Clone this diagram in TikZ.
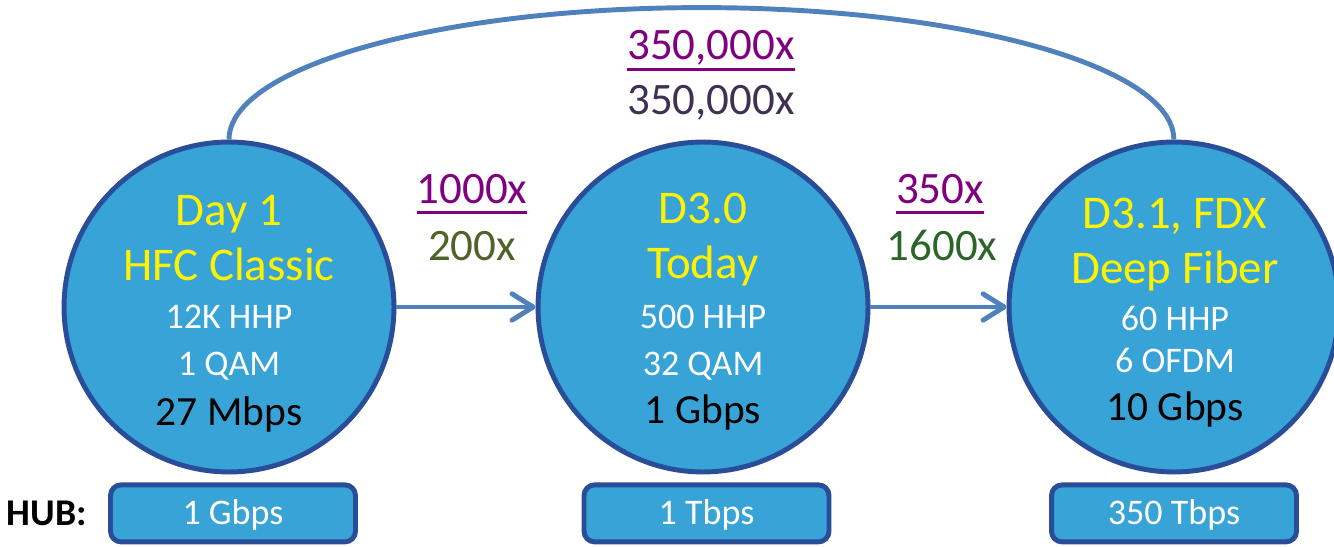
\documentclass[tikz,border=0pt]{standalone}
\usepackage{fontspec}
\setmainfont{Carlito}
\usepackage{tikz}
\usetikzlibrary{positioning}
\usetikzlibrary{arrows.meta}
\definecolor{stagefill}{RGB}{56,163,214}
\definecolor{stageedge}{RGB}{41,77,152}
\definecolor{linkblue}{RGB}{79,129,189}
\definecolor{newpurple}{RGB}{128,0,128}
\definecolor{oldolive}{RGB}{79,98,40}
\definecolor{oldgreen}{RGB}{45,100,40}
\definecolor{olddark}{RGB}{63,49,81}
\tikzset{stage/.style={circle,draw=stageedge,fill=stagefill,line width=2.8pt,minimum size=6.6cm,inner sep=0pt}}
\tikzset{hubbox/.style={rectangle,rounded corners=6pt,draw=stageedge,fill=stagefill,line width=2.8pt,minimum width=4.9cm,minimum height=1.14cm,inner sep=0pt,text height=12.5pt,text depth=0pt,text=white,font=\fontsize{20.5}{24}\selectfont}}
\tikzset{head/.style={anchor=base,inner sep=0pt,text=yellow,font=\fontsize{26.7}{32}\selectfont}}
\tikzset{spec/.style={anchor=base,inner sep=0pt,text=white,font=\fontsize{20.5}{24}\selectfont}}
\tikzset{rate/.style={anchor=base,inner sep=0pt,text=black,font=\fontsize{23.6}{28}\selectfont}}
\tikzset{gain/.style={anchor=base,inner sep=0pt,text=newpurple,font=\fontsize{25.6}{30}\selectfont}}
\tikzset{link/.style={draw=linkblue,line width=2.8pt}}
\newcommand{\gainline}[1]{{\setbox0\hbox{#1}\rlap{\vrule height -4.8pt depth 6pt width \wd0}\box0}}

\begin{document}
\begin{tikzpicture}[x=0.02cm,y=-0.02cm]
\useasboundingbox (0,0) rectangle (1334,547);
\node[stage] (s1) at (229,307) {};
\node[stage] (s2) at (703,307) {};
\node[stage] (s3) at (1174,307) {};
\draw[link] (s1.north) arc[start angle=180,end angle=0,x radius=9.45cm,y radius=2.64cm];
\draw[link,-{Straight Barb[length=12pt,width=15pt,round]}] (s1.east) -- (s2.west);
\draw[link,-{Straight Barb[length=12pt,width=15pt,round]}] (s2.east) -- (s3.west);
% day 1
\node[head] (s1a) at (229,225) {Day 1};
\node[head] (s1b) at (229,280) {HFC Classic};
\node[spec] (s1c) at (229,328) {12K HHP};
\node[spec] (s1d) at (229,375) {1 QAM};
\node[rate] (s1e) at (229,425) {27 Mbps};
% today
\node[head] (s2a) at (703,223) {D3.0};
\node[head] (s2b) at (703,278) {Today};
\node[spec] (s2c) at (703,328) {500 HHP};
\node[spec] (s2d) at (703,375) {32 QAM};
\node[rate] (s2e) at (703,423) {1 Gbps};
% deep fiber
\node[head] (s3a) at (1175,228) {D3.1, FDX};
\node[head] (s3b) at (1175,283) {Deep Fiber};
\node[spec] (s3c) at (1175,330) {60 HHP};
\node[spec] (s3d) at (1175,372) {6 OFDM};
\node[rate] (s3e) at (1175,420) {10 Gbps};
% gains
\node[gain] (g1new) at (472,203) {\gainline{1000x}};
\node[gain,text=oldolive] (g1old) at (472,260) {200x};
\node[gain] (g2new) at (940,203) {\gainline{350x}};
\node[gain,text=oldgreen] (g2old) at (942,260) {1600x};
\node[gain] (g3new) at (711,60) {\gainline{350,000x}};
\node[gain,text=olddark] (g3old) at (711,115) {350,000x};
% hub capacity
\node[hubbox,below=0.16cm of s1,xshift=0.08cm] (hub1) {1 Gbps};
\node[hubbox,below=0.16cm of s2,xshift=0.07cm] (hub2) {1 Tbps};
\node[hubbox,below=0.16cm of s3] (hub3) {350 Tbps};
\node[left=0.3cm of hub1,font=\bfseries\fontsize{21.5}{26}\selectfont] (hublbl) {HUB:};
\end{tikzpicture}
\end{document}
